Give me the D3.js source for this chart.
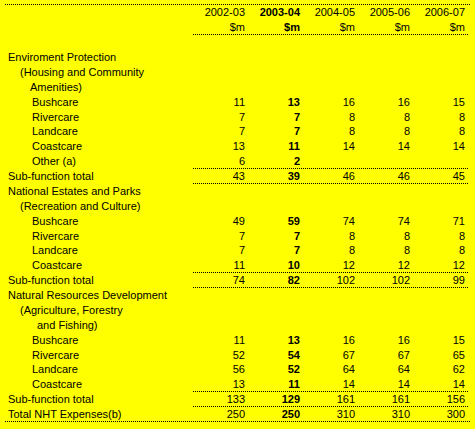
<!DOCTYPE html>
<html><head><meta charset="utf-8">
<script src="https://cdn.jsdelivr.net/npm/d3@7"></script>
<style>body{margin:0;background:#ffff00;}text{font-family:"Liberation Sans",Arial,sans-serif;font-size:11px;fill:#000;}</style>
</head><body>
<svg id="c" width="475" height="429"></svg>
<script>
const years = ["2002-03", "2003-04", "2004-05", "2005-06", "2006-07"];
// [label, indent level, values or null, line under]
const labels = ["Enviroment Protection", "(Housing and Community", "Amenities)",
  "Bushcare", "Rivercare", "Landcare", "Coastcare", "Other (a)", "Sub-function total",
  "National Estates and Parks", "(Recreation and Culture)",
  "Bushcare", "Rivercare", "Landcare", "Coastcare", "Sub-function total",
  "Natural Resources Development", "(Agriculture, Forestry", "and Fishing)",
  "Bushcare", "Rivercare", "Landcare", "Coastcare", "Sub-function total", "Total NHT Expenses(b)"];
const indents = [8, 20, 30, 32, 32, 32, 32, 32, 8, 8, 20, 32, 32, 32, 32, 8, 8, 20, 37, 32, 32, 32, 32, 8, 8];
const values = [null, null, null,
  [11, 13, 16, 16, 15], [7, 7, 8, 8, 8], [7, 7, 8, 8, 8], [13, 11, 14, 14, 14], [6, 2, "", "", ""], [43, 39, 46, 46, 45],
  null, null,
  [49, 59, 74, 74, 71], [7, 7, 8, 8, 8], [7, 7, 8, 8, 8], [11, 10, 12, 12, 12], [74, 82, 102, 102, 99],
  null, null, null,
  [11, 13, 16, 16, 15], [52, 54, 67, 67, 65], [56, 52, 64, 64, 62], [13, 11, 14, 14, 14], [133, 129, 161, 161, 156], [250, 250, 310, 310, 300]];
const linesUnder = [7, 8, 14, 15, 22, 23]; // partial lines
const svg = d3.select("#c");
const x = d3.scalePoint().domain(years).range([245, 465]);
const y = d3.scaleLinear().domain([0, 24]).range([61, 418]);

function dotted(x1, x2, yy) {
  svg.append("line").attr("x1", x1).attr("x2", x2).attr("y1", yy).attr("y2", yy)
    .attr("stroke", "#000").attr("stroke-width", 1).attr("stroke-dasharray", "1,1");
}
dotted(5, 470, 4.5);
dotted(193, 468, 34.5);

years.forEach((yr, j) => {
  svg.append("text").attr("x", x(yr)).attr("y", 16).attr("text-anchor", "end")
    .style("font-weight", j == 1 ? "bold" : null).text(yr);
  svg.append("text").attr("x", x(yr)).attr("y", 31).attr("text-anchor", "end")
    .style("font-weight", j == 1 ? "bold" : null).text("$m");
});

labels.forEach((l, i) => {
  svg.append("text").attr("x", indents[i]).attr("y", y(i)).text(l);
  if (values[i]) {
    values[i].forEach((v, j) => {
      svg.append("text").attr("x", x(years[j])).attr("y", y(i)).attr("text-anchor", "end")
        .style("font-weight", j == 1 ? "bold" : null).text(v);
    });
  }
});
linesUnder.forEach(i => dotted(193, 468, Math.round(y(i) + 3) + 0.5));
dotted(5, 470, Math.round(y(24) + 3) + 0.5);
</script>
</body></html>
